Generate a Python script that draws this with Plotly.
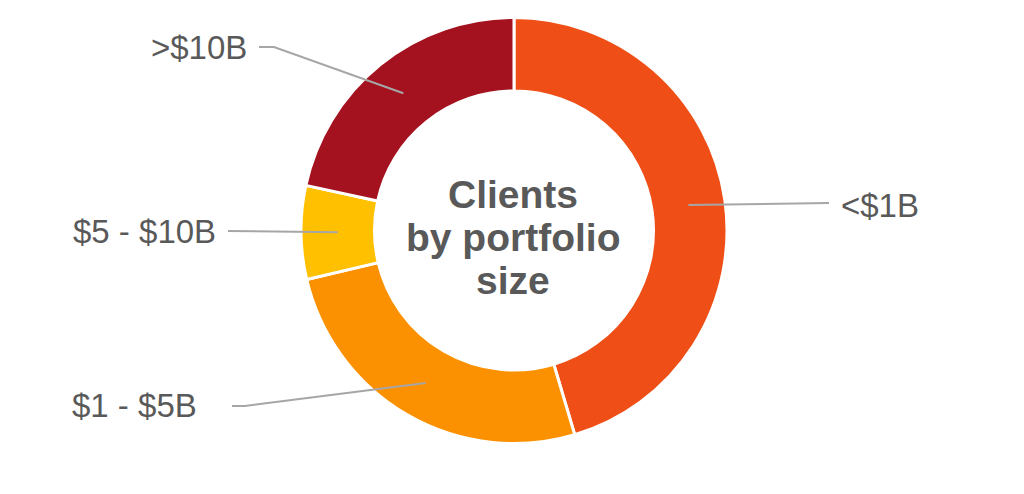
import math
import plotly.graph_objects as go

# ---- data ----
categories = ["<$1B", "$1 - $5B", "$5 - $10B", ">$10B"]
values = [45.4, 25.9, 7.1, 21.6]
colors = ["#EF4F17", "#FB9100", "#FFC000", "#A3121E"]
center_title = ["Clients", "by portfolio", "size"]

# ---- layout constants (pixels, in the screenshot frame) ----
W, H = 1024, 494
OFF = 8  # page body margin
CX, CY = 514, 230.5
R_OUT = 213
HOLE = 0.655
R_MID = R_OUT * (1 + HOLE) / 2

# label placement: text anchor (x, y), xanchor, elbow point, line end point
label_layout = {
    "<$1B":      dict(tx=839, ty=205, xa="left",  knee=None,       end=(829, 203)),
    "$1 - $5B":  dict(tx=199, ty=405, xa="right", knee=(245, 406), end=(232, 406)),
    "$5 - $10B": dict(tx=218, ty=231, xa="right", knee=None,       end=(228, 231)),
    ">$10B":     dict(tx=249, ty=47,  xa="right", knee=(274, 47),  end=(259, 47)),
}

def px(x):
    return (x - OFF) / W

def py(y):
    return 1 - (y - OFF) / H

fig = go.Figure()
fig.add_trace(go.Pie(
    labels=categories,
    values=values,
    hole=HOLE,
    sort=False,
    direction="clockwise",
    rotation=0,
    marker=dict(colors=colors, line=dict(color="white", width=3)),
    textinfo="none",
    hoverinfo="label+value",
    showlegend=False,
    domain=dict(x=[px(CX - R_OUT), px(CX + R_OUT)], y=[py(CY + R_OUT), py(CY - R_OUT)]),
))

# leader lines, starting at the mid-angle of each slice
total = sum(values)
cum = 0
shapes = []
annotations = []
for cat, v in zip(categories, values):
    mid = (cum + v / 2) / total * 2 * math.pi
    cum += v
    sx = CX + R_MID * math.sin(mid)
    sy = CY - R_MID * math.cos(mid)
    lay = label_layout[cat]
    pts = [(sx, sy)]
    if lay["knee"]:
        pts.append(lay["knee"])
    pts.append(lay["end"])
    path = "M " + " L ".join(f"{px(x):.5f},{py(y):.5f}" for x, y in pts)
    shapes.append(dict(type="path", path=path, xref="paper", yref="paper",
                       line=dict(color="#A6A6A6", width=2)))
    annotations.append(dict(
        text=cat, x=px(lay["tx"]), y=py(lay["ty"]), xref="paper", yref="paper",
        xanchor=lay["xa"], yanchor="middle", showarrow=False,
        font=dict(family="Liberation Sans, Arial, sans-serif", size=33, color="#595959"),
    ))

# center title, one annotation per line
for i, line in enumerate(center_title):
    annotations.append(dict(
        text=f"<b>{line}</b>", x=px(513), y=py(194 + 43 * i), xref="paper", yref="paper",
        xanchor="center", yanchor="middle", showarrow=False,
        font=dict(family="Liberation Sans, Arial, sans-serif", size=39, color="#595959"),
    ))

fig.update_layout(
    width=W, height=H,
    margin=dict(l=0, r=0, t=0, b=0),
    paper_bgcolor="white", plot_bgcolor="white",
    shapes=shapes, annotations=annotations,
)

fig.write_html("out.html")
